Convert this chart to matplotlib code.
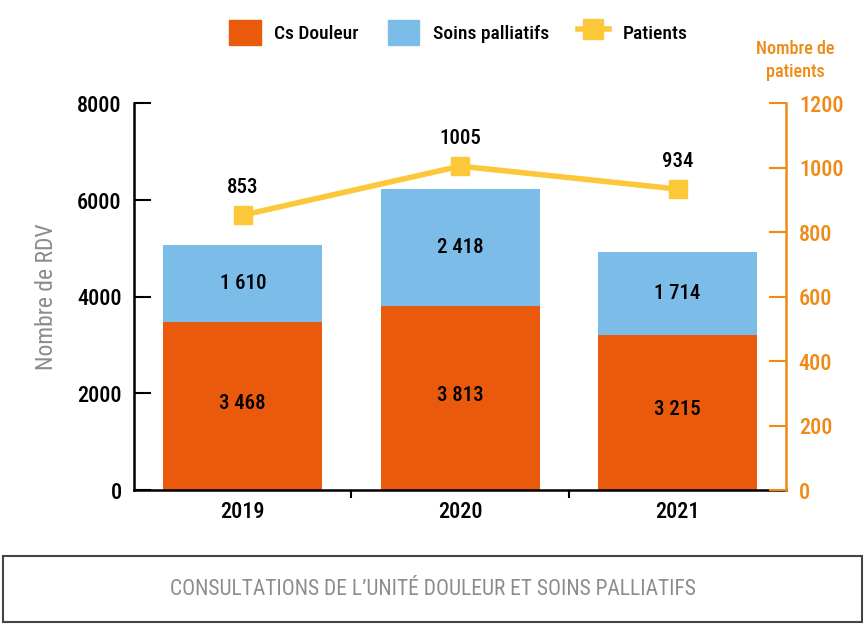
import matplotlib
matplotlib.use("Agg")
import matplotlib.pyplot as plt
from matplotlib import font_manager as fm
from matplotlib.patches import Rectangle, Patch
from matplotlib.lines import Line2D

# Data
years = ["2019", "2020", "2021"]
cs_douleur = [3468, 3813, 3215]
soins_palliatifs = [1610, 2418, 1714]
patients = [853, 1005, 934]

# pick a narrow font if one is installed
fam, stretch = "DejaVu Sans", "condensed"
names = {f.name for f in fm.fontManager.ttflist}
for cand in ["Roboto Condensed", "Liberation Sans Narrow"]:
    if cand in names:
        fam, stretch = cand, "normal"
        break
plt.rcParams["font.family"] = fam
plt.rcParams["font.stretch"] = stretch

orange = "#E95A0C"
blue = "#7BBDE8"
yellow = "#FCC83A"
axis_orange = "#EE8A16"
grey = "#8C8C8C"
wt = "medium"

fig = plt.figure(figsize=(8.65, 6.26), dpi=100)
ax = fig.add_axes([0.155, 0.217, 0.754, 0.618])
ax2 = ax.twinx()

x = range(len(years))
w = 0.73
ax.bar(x, cs_douleur, w, color=orange, zorder=2)
ax.bar(x, soins_palliatifs, w, bottom=cs_douleur, color=blue, zorder=2)

for i in x:
    ax.text(i, cs_douleur[i] / 2 + 60, f"{cs_douleur[i]:,}".replace(",", " "),
            ha="center", va="center", fontsize=15, color="black", fontweight=wt)
    ax.text(i, cs_douleur[i] + soins_palliatifs[i] / 2,
            f"{soins_palliatifs[i]:,}".replace(",", " "),
            ha="center", va="center", fontsize=15, color="black", fontweight=wt)

ax2.plot(x, patients, color=yellow, lw=4, marker="s", markersize=13, zorder=3)
for i in x:
    ax2.annotate(str(patients[i]), (i, patients[i]), xytext=(0, 13),
                 textcoords="offset points", ha="center", va="bottom",
                 fontsize=15, color="black", fontweight=wt)

ax.set_xlim(-0.5, 2.5)
ax.set_ylim(0, 8000)
ax2.set_ylim(0, 1200)
ax.set_yticks([0, 2000, 4000, 6000, 8000])
ax2.set_yticks(range(0, 1201, 200))

ax.set_xticks(list(x))
ax.set_xticklabels(years, fontweight=wt)
ax.set_xticks([0.5, 1.5], minor=True)
ax.tick_params(axis="x", which="major", length=0, pad=8, labelsize=16)
ax.tick_params(axis="x", which="minor", length=6, width=1.5, direction="out")
ax.tick_params(axis="y", direction="in", length=12, width=1.5, pad=9, labelsize=16)
ax2.tick_params(axis="y", direction="in", length=12, width=1.5, pad=9, labelsize=16,
                colors=axis_orange)
for lab in ax.get_yticklabels() + ax2.get_yticklabels():
    lab.set_fontweight(wt)

for s in ["top", "right"]:
    ax.spines[s].set_visible(False)
for s in ["top", "left", "bottom"]:
    ax2.spines[s].set_visible(False)
ax.spines["left"].set_linewidth(1.8)
ax.spines["bottom"].set_linewidth(1.8)
ax2.spines["right"].set_linewidth(1.8)
ax2.spines["right"].set_color(axis_orange)

ax.set_ylabel("Nombre de RDV", fontsize=17, color=grey, labelpad=14)
fig.text(0.919, 0.903, "Nombre de\npatients", ha="center", va="center",
         fontsize=13, color=axis_orange, linespacing=1.35, fontweight=wt)

handles = [Patch(color=orange), Patch(color=blue),
           Line2D([], [], color=yellow, lw=4, marker="s", markersize=14)]
fig.legend(handles, ["Cs Douleur", "Soins palliatifs", "Patients"],
           loc="center", bbox_to_anchor=(0.53, 0.948), ncol=3, frameon=False,
           prop={"size": 14, "weight": wt}, handlelength=1.6, handleheight=1.6,
           columnspacing=1.5, handletextpad=0.7)

fig.patches.append(Rectangle((0.004, 0.007), 0.992, 0.105, transform=fig.transFigure,
                             fill=False, edgecolor="#444444", lw=1.5))
fig.text(0.5, 0.059, "CONSULTATIONS DE L’UNITÉ DOULEUR ET SOINS PALLIATIFS",
         ha="center", va="center", fontsize=15.5, color=grey)

fig.savefig("out.png", dpi=100)
